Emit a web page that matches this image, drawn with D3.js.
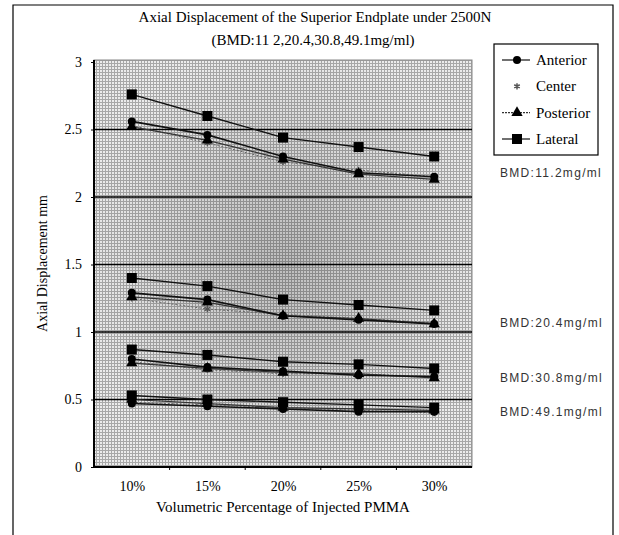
<!DOCTYPE html>
<html><head><meta charset="utf-8">
<script src="https://cdn.jsdelivr.net/npm/d3@7"></script>
<style>body{margin:0;background:#fff}svg{display:block}</style>
</head><body>
<script>
const categories = ["10%","15%","20%","25%","30%"];
const yTicks = [0,0.5,1,1.5,2,2.5,3];
const yTickLabels = ["0","0.5","1","1.5","2","2.5","3"];
const bmdLabels = ["BMD:11.2mg/ml","BMD:20.4mg/ml","BMD:30.8mg/ml","BMD:49.1mg/ml"];
const bmdLabelValues = [2.18, 1.07, 0.66, 0.41];
const seriesNames = ["Anterior","Center","Posterior","Lateral"];
// rows: BMD 11.2, 20.4, 30.8, 49.1
const anterior = [
  [2.56,2.46,2.30,2.18,2.15],
  [1.29,1.24,1.12,1.09,1.06],
  [0.80,0.74,0.71,0.68,0.67],
  [0.47,0.45,0.43,0.41,0.41]];
const center = [
  [2.53,2.40,2.26,2.20,2.15],
  [1.25,1.17,1.13,1.10,1.07],
  [0.78,0.72,0.69,0.69,0.67],
  [0.48,0.46,0.44,0.42,0.40]];
const posterior = [
  [2.52,2.42,2.28,2.17,2.13],
  [1.26,1.22,1.12,1.10,1.06],
  [0.77,0.73,0.70,0.69,0.66],
  [0.50,0.47,0.44,0.43,0.42]];
const lateral = [
  [2.76,2.60,2.44,2.37,2.30],
  [1.40,1.34,1.24,1.20,1.16],
  [0.87,0.83,0.78,0.76,0.73],
  [0.53,0.50,0.48,0.46,0.44]];

const W = 619, H = 535;
const svg = d3.select("body").append("svg").attr("width",W).attr("height",H);
const defs = svg.append("defs");
const pat = defs.append("pattern").attr("id","dots").attr("width",3).attr("height",3).attr("patternUnits","userSpaceOnUse");
pat.append("rect").attr("width",3).attr("height",3).attr("fill","#ececec");
pat.append("rect").attr("width",1).attr("height",3).attr("fill","#a8a8a8");
pat.append("rect").attr("width",3).attr("height",1).attr("fill","#a8a8a8");
const rg = defs.append("radialGradient").attr("id","shade").attr("cx","0.5").attr("cy","0.5").attr("r","0.55");
rg.append("stop").attr("offset","0").attr("stop-color","#000").attr("stop-opacity",0.2);
rg.append("stop").attr("offset","1").attr("stop-color","#000").attr("stop-opacity",0.0);

const L = 94, R = 472, T = 60, B = 467;
const x = d3.scalePoint().domain(categories).range([L,R]).padding(0.5);
const y = d3.scaleLinear().domain([0,3]).range([B,62]);
const serif = "'Liberation Serif','DejaVu Serif',serif";
const sans = "'Liberation Sans',Arial,sans-serif";

// outer frame
svg.append("path").attr("d",`M13,${H} V5 H613 V${H}`).attr("fill","none").attr("stroke","#000").attr("stroke-width",1.2);

// plot background
svg.append("rect").attr("x",L).attr("y",T).attr("width",R-L).attr("height",B-T).attr("fill","url(#dots)");
svg.append("rect").attr("x",L).attr("y",T).attr("width",R-L).attr("height",B-T).attr("fill","url(#shade)");
svg.append("rect").attr("x",L).attr("y",T).attr("width",R-L).attr("height",B-T).attr("fill","none").attr("stroke","#888").attr("stroke-width",1);

// gridlines
svg.append("g").selectAll("line").data(yTicks.filter(d=>d>0 && d<3)).join("line")
  .attr("x1",L).attr("x2",R).attr("y1",d=>y(d)).attr("y2",d=>y(d))
  .attr("stroke","#000").attr("stroke-width",1.5);

// axes
const yAxis = d3.axisLeft(y).tickValues(yTicks).tickFormat((d,i)=>yTickLabels[i]).tickSize(3).tickPadding(9);
const gy = svg.append("g").attr("transform",`translate(${L},0)`).call(yAxis);
gy.select(".domain").attr("stroke","#000").attr("stroke-width",2).attr("d",`M0,${T}V${B}`);
gy.selectAll("text").attr("font-family",serif).attr("font-size",14).attr("fill","#000");
const xAxis = d3.axisBottom(x).tickSize(0).tickPadding(14);
const gx = svg.append("g").attr("transform",`translate(0,${B})`).call(xAxis);
gx.select(".domain").attr("stroke","#000").attr("stroke-width",2).attr("d",`M${L},0H${R}`);
gx.selectAll("text").attr("font-family",serif).attr("font-size",14).attr("fill","#000");
const step = x.step();
gx.append("g").selectAll("line").data(categories.slice(1)).join("line")
  .attr("x1",d=>x(d)-step/2).attr("x2",d=>x(d)-step/2).attr("y1",0).attr("y2",3).attr("stroke","#000");

// series
const styles = {
  Anterior:{data:anterior, stroke:"#111", width:1.6, dash:null},
  Center:{data:center, stroke:"#666", width:1, dash:"2,2"},
  Posterior:{data:posterior, stroke:"#333", width:1.2, dash:null},
  Lateral:{data:lateral, stroke:"#111", width:1.4, dash:null}
};
const line = d3.line().x((d,i)=>x(categories[i])).y(d=>y(d));
function marker(g, name, cx, cy){
  if(name==="Anterior") g.append("circle").attr("cx",cx).attr("cy",cy).attr("r",4).attr("fill","#000");
  else if(name==="Center") g.append("path").attr("d",d3.symbol(d3.symbolAsterisk,28)()).attr("transform",`translate(${cx},${cy})`).attr("stroke","#555").attr("stroke-width",1.5).attr("fill","none");
  else if(name==="Posterior") g.append("path").attr("d",d3.symbol(d3.symbolTriangle,55)()).attr("transform",`translate(${cx},${cy})`).attr("fill","#000");
  else g.append("rect").attr("x",cx-5).attr("y",cy-5).attr("width",10).attr("height",10).attr("fill","#000");
}
const gs = svg.append("g");
["Center","Posterior","Anterior","Lateral"].forEach(name=>{
  const st = styles[name];
  st.data.forEach(row=>{
    gs.append("path").attr("d",line(row)).attr("fill","none").attr("stroke",st.stroke)
      .attr("stroke-width",st.width).attr("stroke-dasharray",st.dash);
    row.forEach((v,i)=>marker(gs,name,x(categories[i]),y(v)));
  });
});

// titles
svg.append("text").attr("x",315).attr("y",22).attr("text-anchor","middle").attr("font-family",serif).attr("font-size",15)
  .text("Axial Displacement of the Superior Endplate under 2500N");
svg.append("text").attr("x",313).attr("y",45).attr("text-anchor","middle").attr("font-family",serif).attr("font-size",15)
  .text("(BMD:11 2,20.4,30.8,49.1mg/ml)");
svg.append("text").attr("transform",`translate(47,${(T+B)/2}) rotate(-90)`).attr("text-anchor","middle").attr("font-family",serif).attr("font-size",14)
  .text("Axial Displacement mm");
svg.append("text").attr("x",(L+R)/2).attr("y",512).attr("text-anchor","middle").attr("font-family",serif).attr("font-size",15)
  .text("Volumetric Percentage of Injected PMMA");

// legend
const lg = svg.append("g");
lg.append("rect").attr("x",494).attr("y",44).attr("width",104).attr("height",111).attr("fill","#fff").attr("stroke","#000").attr("stroke-width",1.2);
const legendY = d3.scalePoint().domain(seriesNames).range([60,139]);
seriesNames.forEach(name=>{
  const st = styles[name];
  const ly = legendY(name);
  if(name!=="Center"){
    lg.append("line").attr("x1",502).attr("x2",530).attr("y1",ly).attr("y2",ly).attr("stroke",st.stroke)
      .attr("stroke-width",1.2).attr("stroke-dasharray",name==="Posterior"?"2,1":null);
  }
  marker(lg,name,517,ly);
  lg.append("text").attr("x",536).attr("y",ly+5).attr("font-family",serif).attr("font-size",15).text(name);
});

// BMD labels
svg.append("g").selectAll("text").data(bmdLabels).join("text")
  .attr("x",500).attr("y",(d,i)=>y(bmdLabelValues[i])+4)
  .attr("font-family",sans).attr("font-size",12).attr("letter-spacing",1.3).attr("fill","#333").text(d=>d);
</script>
</body></html>
